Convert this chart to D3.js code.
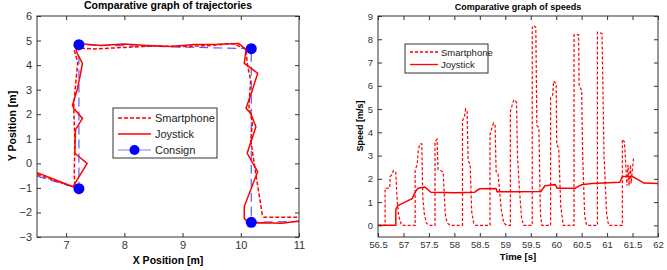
<!DOCTYPE html>
<html>
<head>
<meta charset="utf-8">
<script src="https://cdn.jsdelivr.net/npm/d3@7"></script>
<style>
  body { margin: 0; background: #fff; }
  text { font-family: "Liberation Sans", Arial, sans-serif; }
</style>
</head>
<body>
<div id="chart"></div>
<script>
// ---- trajectories (left) ----
var smartX = [6.5, 7.15, 7.14, 7.15, 7.13, 7.17, 7.2, 7.14, 7.16, 7.5, 8.0, 8.5, 9.0, 9.5, 9.85, 10.06, 10.09, 10.11, 10.17, 10.14, 10.2, 10.17, 10.23, 10.37, 10.4, 11];
var smartY = [-0.45, -0.98, -0.4, 1.0, 2.3, 3.4, 4.1, 4.62, 4.7, 4.66, 4.72, 4.78, 4.76, 4.8, 4.88, 4.7, 4.62, 4.07, 3.39, 2.31, 1.63, 0.95, 0.0, -2.1, -2.2, -2.2];

var joyX = [6.5, 7.12, 7.36, 7.15, 7.16, 7.28, 7.13, 7.11, 7.19, 7.25, 7.28, 7.19, 7.16, 7.2, 7.6, 8.0, 8.4, 8.8, 9.2, 9.6, 9.97, 10.09, 10.06, 10.29, 10.2, 10.09, 10.17, 10.26, 10.11, 10.29, 10.06, 10.06, 10.14, 10.37, 10.71, 11];
var joyY = [-0.38, -0.95, 0.0, 0.41, 1.36, 1.83, 2.24, 2.38, 2.99, 3.67, 4.07, 4.48, 4.75, 4.88, 4.8, 4.86, 4.8, 4.76, 4.84, 4.85, 4.88, 4.62, 4.07, 3.67, 2.99, 2.24, 2.04, 1.49, 0.41, -0.34, -1.76, -2.24, -2.44, -2.42, -2.44, -2.35];

var consignX = [6.5, 7.22, 7.22, 10.18, 10.18, 11];
var consignY = [-0.52, -1.03, 4.83, 4.67, -2.4, -2.37];
var cornerX = [7.22, 7.22, 10.18, 10.18];
var cornerY = [-1.03, 4.83, 4.67, -2.4];

var trajXTicks = [7, 8, 9, 10, 11];
var trajYTicks = [-3, -2, -1, 0, 1, 2, 3, 4, 5, 6];

// ---- speeds (right) ----
var smartT = [56.5, 56.64, 56.64, 56.73, 56.74, 56.78, 56.8, 56.85, 56.87, 56.9, 56.93, 56.97,
  57.23, 57.23, 57.27, 57.29, 57.32, 57.36, 57.38, 57.41, 57.45, 57.5,
  57.62, 57.62, 57.66, 57.68, 57.78, 57.82, 57.86, 57.92,
  58.16, 58.16, 58.2, 58.22, 58.25, 58.27, 58.31, 58.34, 58.38, 58.42,
  58.7, 58.7, 58.74, 58.77, 58.8, 58.82, 58.86, 58.92, 58.97, 59.03,
  59.1, 59.1, 59.14, 59.17, 59.22, 59.24, 59.28, 59.32, 59.36,
  59.53, 59.53, 59.56, 59.6, 59.62, 59.66, 59.69, 59.72,
  59.89, 59.89, 59.93, 59.95, 60.0, 60.01, 60.05, 60.09, 60.14,
  60.35, 60.35, 60.44, 60.45, 60.5, 60.52, 60.56, 60.6,
  60.81, 60.81, 60.9, 60.92, 60.94, 60.99, 61.03,
  61.3, 61.3, 61.34, 61.36, 61.39, 61.41, 61.43, 61.46, 61.47, 61.52];
var smartV = [0, 0, 1.6, 1.6, 2.1, 2.2, 2.35, 2.3, 1.3, 0.5, 0.2, 0,
  0, 2.4, 2.6, 3.2, 3.5, 3.5, 1.2, 0.5, 0.1, 0,
  0, 3.6, 3.7, 2.4, 2.3, 0.5, 0.1, 0,
  0, 4.5, 4.7, 5.0, 4.9, 2.8, 2.6, 0.6, 0.1, 0,
  0, 3.9, 4.2, 4.4, 4.3, 2.3, 2.2, 0.7, 0.1, 0,
  0, 4.9, 5.2, 5.4, 5.3, 3.0, 1.5, 0.3, 0,
  0, 8.5, 8.6, 8.5, 4.3, 4.2, 0.5, 0,
  0, 5.5, 5.6, 6.2, 6.1, 3.5, 3.3, 0.8, 0,
  0, 8.2, 8.2, 6.0, 5.8, 3.0, 0.4, 0,
  0, 8.3, 8.25, 5.6, 3.0, 0.5, 0,
  0, 3.7, 3.6, 2.85, 1.7, 2.6, 1.7, 2.6, 1.8, 2.9];

var joyT = [56.5, 56.85, 56.85, 56.89, 57.03, 57.17, 57.25, 57.29, 57.42, 57.54, 58.0, 58.4, 58.44, 58.5, 58.82, 58.84, 59.2, 59.7, 59.78, 59.98, 60.02, 60.37, 60.5, 60.7, 61.25, 61.3, 61.5, 61.58, 61.66, 61.72, 62];
var joyV = [0, 0, 0.7, 0.85, 1.0, 1.15, 1.5, 1.6, 1.65, 1.42, 1.4, 1.42, 1.5, 1.57, 1.58, 1.45, 1.44, 1.46, 1.7, 1.75, 1.6, 1.6, 1.75, 1.8, 1.85, 2.1, 2.1, 2.0, 1.9, 1.82, 1.8];

var speedXTicks = [56.5, 57, 57.5, 58, 58.5, 59, 59.5, 60, 60.5, 61, 61.5, 62];
var speedYTicks = [0, 1, 2, 3, 4, 5, 6, 7, 8, 9];

var svg = d3.select("#chart").append("svg")
  .attr("width", 667)
  .attr("height", 270);

function frame(g, x, y, xt, yt, fsize) {
  var w = x.range()[1] - x.range()[0];
  var h = y.range()[0] - y.range()[1];
  g.append("g").attr("transform", "translate(0," + h + ")")
    .call(d3.axisBottom(x).tickValues(xt).tickSizeInner(-4).tickSizeOuter(0).tickPadding(4).tickFormat(d3.format("")))
    .attr("font-size", fsize).attr("font-family", null);
  g.append("g")
    .call(d3.axisTop(x).tickValues(xt).tickSizeInner(-4).tickSizeOuter(0).tickFormat(""));
  g.append("g")
    .call(d3.axisLeft(y).tickValues(yt).tickSizeInner(-4).tickSizeOuter(0).tickPadding(5).tickFormat(d3.format("")))
    .attr("font-size", fsize).attr("font-family", null);
  g.append("g").attr("transform", "translate(" + w + ",0)")
    .call(d3.axisRight(y).tickValues(yt).tickSizeInner(-4).tickSizeOuter(0).tickFormat(""));
  g.selectAll(".domain").remove();
  g.selectAll(".tick line").attr("stroke", "#333");
  g.selectAll(".tick text").attr("fill", "#333");
  g.append("rect").attr("width", w).attr("height", h)
    .attr("fill", "none").attr("stroke", "#333").attr("stroke-width", 1);
}

// ================= left chart =================
var L = { left: 37, top: 16, w: 262, h: 221 };
var gL = svg.append("g").attr("transform", "translate(" + L.left + "," + L.top + ")");
var xL = d3.scaleLinear().domain([6.5, 11]).range([0, L.w]);
var yL = d3.scaleLinear().domain([-3, 6]).range([L.h, 0]);

svg.append("clipPath").attr("id", "clipL").append("rect").attr("width", L.w).attr("height", L.h);
svg.append("clipPath").attr("id", "clipR").append("rect").attr("width", 280).attr("height", 221);

var lineL = d3.line().x(function (d) { return xL(d[0]); }).y(function (d) { return yL(d[1]); });
var pL = gL.append("g").attr("clip-path", "url(#clipL)");

pL.append("path")
  .attr("d", lineL(d3.zip(consignX, consignY)))
  .attr("fill", "none").attr("stroke", "#5a5aff").attr("stroke-width", 1.2)
  .attr("stroke-dasharray", "9,5");
pL.append("path")
  .attr("d", lineL(d3.zip(smartX, smartY)))
  .attr("fill", "none").attr("stroke", "#ff0000").attr("stroke-width", 1.5)
  .attr("stroke-dasharray", "4,2");
pL.append("path")
  .attr("d", lineL(d3.zip(joyX, joyY)))
  .attr("fill", "none").attr("stroke", "#ff0000").attr("stroke-width", 1.5);
pL.selectAll("circle").data(d3.zip(cornerX, cornerY)).enter().append("circle")
  .attr("cx", function (d) { return xL(d[0]); })
  .attr("cy", function (d) { return yL(d[1]); })
  .attr("r", 5.5).attr("fill", "#0000ff");

frame(gL, xL, yL, trajXTicks, trajYTicks, 11);

svg.append("text").attr("x", 168).attr("y", 9)
  .attr("text-anchor", "middle").attr("font-weight", "bold").attr("font-size", 10.5)
  .text("Comparative graph of trajectories");
svg.append("text").attr("x", 168).attr("y", 264)
  .attr("text-anchor", "middle").attr("font-weight", "bold").attr("font-size", 10.5)
  .text("X Position [m]");
svg.append("text").attr("transform", "translate(16,126) rotate(-90)")
  .attr("text-anchor", "middle").attr("font-weight", "bold").attr("font-size", 10.5)
  .text("Y Position [m]");

// legend left
var legL = svg.append("g").attr("transform", "translate(113,108)");
legL.append("rect").attr("width", 104).attr("height", 50)
  .attr("fill", "#fff").attr("stroke", "#333").attr("stroke-width", 1);
var legItemsL = [
  { name: "Smartphone", color: "#ff0000", dash: "4,2", mark: false },
  { name: "Joystick", color: "#ff0000", dash: null, mark: false },
  { name: "Consign", color: "#7f7fff", dash: null, mark: true }
];
legItemsL.forEach(function (d, i) {
  var yy = 10 + i * 16;
  legL.append("line").attr("x1", 5).attr("x2", 38).attr("y1", yy).attr("y2", yy)
    .attr("stroke", d.color).attr("stroke-width", d.mark ? 1.2 : 1.5)
    .attr("stroke-dasharray", d.dash);
  if (d.mark) legL.append("circle").attr("cx", 21.5).attr("cy", yy).attr("r", 5).attr("fill", "#0000ff");
  legL.append("text").attr("x", 42).attr("y", yy + 4).attr("font-size", 11).attr("fill", "#222").text(d.name);
});

// ================= right chart =================
var R = { left: 378, top: 16, w: 280, h: 221 };
var gR = svg.append("g").attr("transform", "translate(" + R.left + "," + R.top + ")");
var xR = d3.scaleLinear().domain([56.5, 62]).range([0, R.w]);
var yR = d3.scaleLinear().domain([-0.5, 9]).range([R.h, 0]);
var lineR = d3.line().x(function (d) { return xR(d[0]); }).y(function (d) { return yR(d[1]); });
var pR = gR.append("g").attr("clip-path", "url(#clipR)");

pR.append("path")
  .attr("d", lineR(d3.zip(smartT, smartV)))
  .attr("fill", "none").attr("stroke", "#ff0000").attr("stroke-width", 1.2)
  .attr("stroke-dasharray", "3,2");
pR.append("path")
  .attr("d", lineR(d3.zip(joyT, joyV)))
  .attr("fill", "none").attr("stroke", "#ff0000").attr("stroke-width", 1.5);

frame(gR, xR, yR, speedXTicks, speedYTicks, 10);
gR.selectAll(".tick text").attr("font-size", 9.5);

svg.append("text").attr("x", 518).attr("y", 10)
  .attr("text-anchor", "middle").attr("font-weight", "bold").attr("font-size", 9)
  .text("Comparative graph of speeds");
svg.append("text").attr("x", 518).attr("y", 260)
  .attr("text-anchor", "middle").attr("font-weight", "bold").attr("font-size", 9.5)
  .text("Time [s]");
svg.append("text").attr("transform", "translate(363,126) rotate(-90)")
  .attr("text-anchor", "middle").attr("font-weight", "bold").attr("font-size", 9)
  .text("Speed [m/s]");

// legend right
var legR = svg.append("g").attr("transform", "translate(405,44)");
legR.append("rect").attr("width", 83).attr("height", 29)
  .attr("fill", "#fff").attr("stroke", "#333").attr("stroke-width", 1);
var legItemsR = [
  { name: "Smartphone", dash: "3,2" },
  { name: "Joystick", dash: null }
];
legItemsR.forEach(function (d, i) {
  var yy = 8 + i * 12.5;
  legR.append("line").attr("x1", 5).attr("x2", 33).attr("y1", yy).attr("y2", yy)
    .attr("stroke", "#ff0000").attr("stroke-width", 1.3).attr("stroke-dasharray", d.dash);
  legR.append("text").attr("x", 36).attr("y", yy + 3.5).attr("font-size", 9.5).attr("fill", "#222").text(d.name);
});
</script>
</body>
</html>
